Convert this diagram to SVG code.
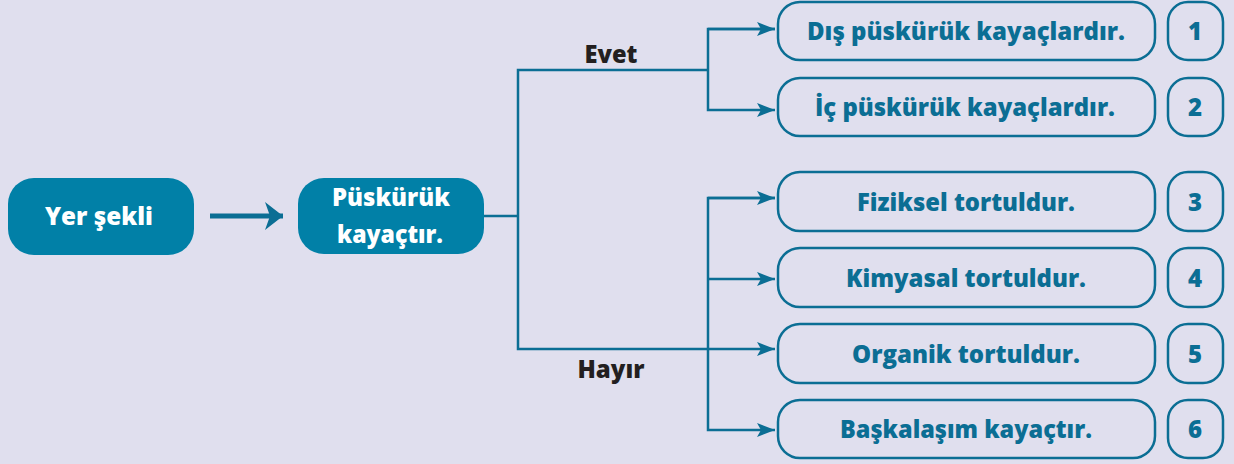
<svg xmlns="http://www.w3.org/2000/svg" width="1234" height="464" viewBox="0 0 1234 464">
<defs>
<style>
.bg{fill:#E0DFEE}
.solid{fill:#0180A7}
.wt{fill:#FFFFFF;font-family:"Open Sans",Lato,sans-serif;font-weight:800;font-size:24px;text-anchor:middle}
.ob{fill:none;stroke:#0B6E94;stroke-width:2.5}
.bt{fill:#0B6E94;font-family:"Open Sans",Lato,sans-serif;font-weight:800;font-size:24px;text-anchor:middle}
.lb{fill:#231F20;font-family:"Open Sans",Lato,sans-serif;font-weight:800;font-size:24px;text-anchor:middle}
.ln{fill:none;stroke:#0B6E94;stroke-width:2.5}
</style>
<marker id="ah" viewBox="0 0 18 14" refX="18" refY="7" markerWidth="18" markerHeight="14" markerUnits="userSpaceOnUse" orient="auto">
<path d="M0,0 L18,7 L0,14 L4,7 Z" fill="#0B6E94"/>
</marker>
<marker id="ahBig" viewBox="0 0 18 28" refX="18" refY="14" markerWidth="18" markerHeight="28" markerUnits="userSpaceOnUse" orient="auto">
<path d="M0,0 L18,14 L0,28 L5,14 Z" fill="#0B6E94"/>
</marker>
</defs>
<rect class="bg" x="0" y="0" width="1234" height="464"/>

<g id="connectors">
<line x1="210" y1="216" x2="283" y2="216" stroke="#0B6E94" stroke-width="5" marker-end="url(#ahBig)"/>
<polyline class="ln" points="484,216 518,216"/>
<polyline class="ln" points="708,70 518,70 518,349 775,349" marker-end="url(#ah)"/>
<polyline class="ln" points="775,29 708,29 708,110 775,110" marker-end="url(#ah)"/>
<line class="ln" x1="708" y1="29" x2="775" y2="29" marker-end="url(#ah)"/>
<polyline class="ln" points="775,198 708,198 708,430 775,430" marker-end="url(#ah)"/>
<line class="ln" x1="708" y1="198" x2="775" y2="198" marker-end="url(#ah)"/>
<line class="ln" x1="708" y1="279" x2="775" y2="279" marker-end="url(#ah)"/>
<text class="lb" x="611" y="63" textLength="53" lengthAdjust="spacingAndGlyphs">Evet</text>
<text class="lb" x="611" y="378" textLength="67" lengthAdjust="spacingAndGlyphs">Hayır</text>
</g>

<g id="node-yer">
<rect class="solid" x="8" y="178" width="186" height="77" rx="26"/>
<text class="wt" x="99" y="225" textLength="108" lengthAdjust="spacingAndGlyphs">Yer şekli</text>
</g>
<g id="node-puskuruk">
<rect class="solid" x="298" y="178" width="186" height="76" rx="26"/>
<text class="wt" x="391" y="206" textLength="118" lengthAdjust="spacingAndGlyphs">Püskürük</text>
<text class="wt" x="390" y="243" textLength="106" lengthAdjust="spacingAndGlyphs">kayaçtır.</text>
</g>

<g id="node-1">
<rect class="ob" x="778" y="2" width="377" height="58" rx="22"/>
<text class="bt" x="966" y="40" textLength="318" lengthAdjust="spacingAndGlyphs">Dış püskürük kayaçlardır.</text>
</g>
<g id="num-1">
<rect class="ob" x="1168" y="2" width="55" height="58" rx="20"/>
<text class="bt" x="1195" y="40">1</text>
</g>
<g id="node-2">
<rect class="ob" x="778" y="78" width="377" height="58" rx="22"/>
<text class="bt" x="965" y="116" textLength="300" lengthAdjust="spacingAndGlyphs">İç püskürük kayaçlardır.</text>
</g>
<g id="num-2">
<rect class="ob" x="1168" y="78" width="55" height="58" rx="20"/>
<text class="bt" x="1195" y="116">2</text>
</g>
<g id="node-3">
<rect class="ob" x="778" y="172" width="377" height="59" rx="22"/>
<text class="bt" x="966" y="211" textLength="218" lengthAdjust="spacingAndGlyphs">Fiziksel tortuldur.</text>
</g>
<g id="num-3">
<rect class="ob" x="1168" y="172" width="55" height="59" rx="20"/>
<text class="bt" x="1195" y="211">3</text>
</g>
<g id="node-4">
<rect class="ob" x="778" y="248" width="377" height="59" rx="22"/>
<text class="bt" x="966" y="287" textLength="240" lengthAdjust="spacingAndGlyphs">Kimyasal tortuldur.</text>
</g>
<g id="num-4">
<rect class="ob" x="1168" y="248" width="55" height="59" rx="20"/>
<text class="bt" x="1195" y="287">4</text>
</g>
<g id="node-5">
<rect class="ob" x="778" y="324" width="377" height="59" rx="22"/>
<text class="bt" x="966" y="363" textLength="228" lengthAdjust="spacingAndGlyphs">Organik tortuldur.</text>
</g>
<g id="num-5">
<rect class="ob" x="1168" y="324" width="55" height="59" rx="20"/>
<text class="bt" x="1195" y="363">5</text>
</g>
<g id="node-6">
<rect class="ob" x="778" y="400" width="377" height="58" rx="22"/>
<text class="bt" x="966" y="438" textLength="252" lengthAdjust="spacingAndGlyphs">Başkalaşım kayaçtır.</text>
</g>
<g id="num-6">
<rect class="ob" x="1168" y="400" width="55" height="58" rx="20"/>
<text class="bt" x="1195" y="438">6</text>
</g>
</svg>
